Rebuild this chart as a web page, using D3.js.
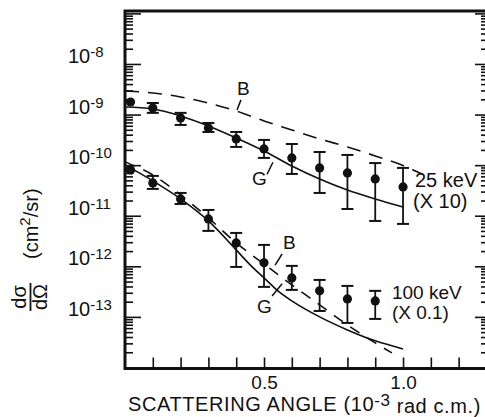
<!DOCTYPE html>
<html><head><meta charset="utf-8">
<script src="https://cdn.jsdelivr.net/npm/d3@7"></script>
<style>
html,body{margin:0;padding:0;background:#fff;}
svg{display:block;}
text{font-family:"Liberation Sans",Arial,Helvetica,sans-serif;fill:#111;}
</style></head>
<body>
<svg id="c" width="485" height="417"></svg>
<script>
// ---------- data ----------
const xExtent = [0, 1.302];                 // scattering angle, 10^-3 rad c.m.
const yExtent = [Math.pow(10,-14.02), Math.pow(10,-6.953)];
const xTickValues = [0.1,0.2,0.3,0.4,0.5,0.6,0.7,0.8,0.9,1.0,1.1,1.2];
const xTickLabels = [0.5, 1.0];
const yDecadeExps = [-8,-9,-10,-11,-12,-13];

// 25 keV (x10) measured points
const kev25X   = [0.02,0.1,0.2,0.3,0.4,0.5,0.6,0.7,0.8,0.9,1.0];
const kev25Val = [1.77e-9,1.35e-9,8.57e-10,5.43e-10,3.30e-10,2.09e-10,1.39e-10,8.81e-11,7.01e-11,5.33e-11,3.71e-11];
const kev25Hi  = [null,1.69e-9,1.08e-9,6.82e-10,4.53e-10,3.15e-10,2.62e-10,1.82e-10,1.59e-10,1.10e-10,8.81e-11];
const kev25Lo  = [null,1.08e-9,6.23e-10,4.53e-10,2.29e-10,1.39e-10,6.70e-11,2.82e-11,1.36e-11,7.88e-12,6.89e-12];

// 100 keV (x0.1) measured points
const kev100X   = [0.02,0.1,0.2,0.3,0.4,0.5,0.6,0.7,0.8,0.9];
const kev100Val = [8.03e-11,4.46e-11,2.15e-11,8.65e-12,2.90e-12,1.17e-12,5.90e-13,3.27e-13,2.27e-13,2.07e-13];
const kev100Hi  = [null,6.12e-11,2.82e-11,1.30e-11,4.57e-12,2.65e-12,1.02e-12,5.38e-13,4.10e-13,3.27e-13];
const kev100Lo  = [null,3.39e-11,1.71e-11,5.01e-12,9.72e-13,3.92e-13,3.42e-13,1.31e-13,7.60e-14,9.12e-14];

// theory curves
const b25X   = [0,0.1,0.2,0.3,0.4,0.5,0.6,0.7,0.8,0.9,1.0,1.07];
const b25Val = [2.92e-9,2.67e-9,2.23e-9,1.69e-9,1.18e-9,7.48e-10,4.96e-10,3.30e-10,2.29e-10,1.52e-10,9.8e-11,6.6e-11];
const g25X   = [0,0.1,0.2,0.3,0.4,0.5,0.6,0.7,0.8,0.9,1.0];
const g25Val = [1.41e-9,1.29e-9,9.38e-10,5.95e-10,3.45e-10,1.91e-10,9.64e-11,5.33e-11,3.23e-11,2.15e-11,1.49e-11];
const b100X   = [0,0.1,0.2,0.3,0.4,0.5,0.6,0.7,0.8,0.9,0.96];
const b100Val = [1.16e-10,6.40e-11,2.58e-11,9.05e-12,2.90e-12,1.11e-12,4.29e-13,1.73e-13,6.95e-14,3.06e-14,1.94e-14];
const g100X   = [0,0.1,0.2,0.3,0.4,0.45,0.5,0.55,0.6,0.7,0.8,0.9,1.0];
const g100Val = [1.01e-10,4.88e-11,2.15e-11,7.88e-12,2.11e-12,1.07e-12,5.90e-13,3.27e-13,2.07e-13,1.0e-13,5.53e-14,3.36e-14,2.33e-14];

// ---------- layout ----------
const svg = d3.select("#c");
const x = d3.scaleLinear().domain(xExtent).range([125, 487]);
const y = d3.scaleLog().domain(yExtent).range([368.5, 11]);
const FONT = 20;

// frame
svg.append("rect")
  .attr("x", x(xExtent[0])).attr("y", y(yExtent[1]))
  .attr("width", x(xExtent[1]) - x(xExtent[0]))
  .attr("height", y(yExtent[0]) - y(yExtent[1]))
  .attr("fill","none").attr("stroke","#111").attr("stroke-width",3);

// y ticks (log, decades + minors)
const decades = [], minors = [];
for (let e = -15; e <= -6; e++) {
  const d = Math.pow(10, e);
  if (d >= yExtent[0] && d <= yExtent[1]) decades.push(d);
  for (let m = 2; m <= 9; m++) {
    const v = m * d;
    if (v >= yExtent[0] && v <= yExtent[1]) minors.push(v);
  }
}
function yAxisGroup(axis, xpos) {
  const g = svg.append("g").attr("transform", `translate(${xpos},0)`).call(axis);
  g.select(".domain").remove();
  g.selectAll("text").remove();
  g.selectAll("line").attr("stroke","#111").attr("stroke-width",1.6);
}
yAxisGroup(d3.axisLeft(y).tickValues(decades).tickSize(-16), x(xExtent[0]));
yAxisGroup(d3.axisLeft(y).tickValues(minors).tickSize(-8), x(xExtent[0]));
yAxisGroup(d3.axisRight(y).tickValues(decades).tickSize(-12), x(xExtent[1]));
yAxisGroup(d3.axisRight(y).tickValues(minors).tickSize(-6), x(xExtent[1]));

// y tick labels 10^e
yDecadeExps.forEach(e => {
  const t = svg.append("text").attr("x", 68).attr("y", y(Math.pow(10, e)) - 1)
    .attr("font-size", FONT);
  t.append("tspan").text("10");
  t.append("tspan").attr("font-size", 15).attr("dy", -6).text("-" + Math.abs(e));
});

// x axis ticks
const gx = svg.append("g").attr("transform", `translate(0,${y(yExtent[0])})`)
  .call(d3.axisBottom(x).tickValues(xTickValues).tickSize(-11).tickPadding(7)
    .tickFormat(d => xTickLabels.some(v => Math.abs(v - d) < 1e-9) ? d3.format(".1f")(d) : ""));
gx.select(".domain").remove();
gx.selectAll("line").attr("stroke","#111").attr("stroke-width",1.6);
gx.selectAll("text").attr("font-size",19).attr("fill","#111")
  .attr("font-family",'"Liberation Sans",Arial,Helvetica,sans-serif');

// x title
const xt = svg.append("text").attr("x", 128).attr("y", 411).attr("font-size", FONT)
  .attr("letter-spacing", 0.6);
xt.append("tspan").text("SCATTERING ANGLE (10");
xt.append("tspan").attr("font-size", 17).attr("dy", -5).text("-3");
xt.append("tspan").attr("dy", 7).text(" rad c.m.)");

// y title (rotated)
const yt = svg.append("g").attr("transform", "rotate(-90)");
yt.append("text").attr("x", -297).attr("y", 26).attr("text-anchor","middle")
  .attr("font-size", FONT).text("dσ");
yt.append("line").attr("x1", -311).attr("x2", -283).attr("y1", 30.5).attr("y2", 30.5)
  .attr("stroke","#111").attr("stroke-width",1.8);
yt.append("text").attr("x", -297).attr("y", 47).attr("text-anchor","middle")
  .attr("font-size", FONT).text("dΩ");
const yu = yt.append("text").attr("x", -259).attr("y", 38).attr("font-size", FONT);
yu.append("tspan").text("(cm");
yu.append("tspan").attr("font-size", 15).attr("dy", -8).text("2");
yu.append("tspan").attr("dy", 8).text("/sr)");

// curves
const line = d3.line().x(d => x(d[0])).y(d => y(d[1])).curve(d3.curveMonotoneX);
function curve(xs, vs, dash) {
  svg.append("path").datum(xs.map((v, i) => [v, vs[i]]))
    .attr("d", line).attr("fill","none").attr("stroke","#111")
    .attr("stroke-width", 1.6).attr("stroke-dasharray", dash || null);
}
curve(b25X, b25Val, "14,9");
curve(g25X, g25Val);
curve(b100X, b100Val, "11,9");
curve(g100X, g100Val);

// points with error bars
function points(xs, vals, his, los) {
  const data = xs.map((v, i) => ({x: v, v: vals[i], hi: his[i], lo: los[i]}));
  const g = svg.append("g");
  const eb = data.filter(d => d.hi != null);
  g.selectAll(".ev").data(eb).join("line")
    .attr("x1", d => x(d.x)).attr("x2", d => x(d.x))
    .attr("y1", d => y(d.hi)).attr("y2", d => y(d.lo))
    .attr("stroke","#111").attr("stroke-width",1.8);
  ["hi","lo"].forEach(k => {
    g.selectAll(".c" + k).data(eb).join("line")
      .attr("x1", d => x(d.x) - 6).attr("x2", d => x(d.x) + 6)
      .attr("y1", d => y(d[k])).attr("y2", d => y(d[k]))
      .attr("stroke","#111").attr("stroke-width",2);
  });
  g.selectAll("circle").data(data).join("circle")
    .attr("cx", d => x(d.x)).attr("cy", d => y(d.v)).attr("r", 4.6).attr("fill","#111");
}
points(kev25X, kev25Val, kev25Hi, kev25Lo);
points(kev100X, kev100Val, kev100Hi, kev100Lo);

// annotations (anchored in data space)
function label(t, xv, yv, size) {
  svg.append("text").attr("x", x(xv)).attr("y", y(yv)).attr("font-size", size || FONT).text(t);
}
function pointer(x1, v1, x2, v2) {
  svg.append("line").attr("x1", x(x1)).attr("y1", y(v1)).attr("x2", x(x2)).attr("y2", y(v2))
    .attr("stroke","#111").attr("stroke-width",1.5);
}
label("B", 0.403, 2.44e-9, 19);
pointer(0.417, 1.95e-9, 0.403, 1.23e-9);
label("G", 0.457, 4.05e-11, 19);
pointer(0.511, 6.6e-11, 0.532, 1.14e-10);
label("B", 0.568, 2.20e-12, 19);
pointer(0.565, 1.75e-12, 0.540, 1.06e-12);
label("G", 0.475, 1.19e-13, 19);
pointer(0.529, 2.59e-13, 0.565, 4.53e-13);
label("25 keV", 1.043, 3.71e-11);
label("(X 10)", 1.036, 1.42e-11);
label("100 keV", 0.960, 2.25e-13, 19);
label("(X 0.1)", 0.960, 9.0e-14, 19);
</script>
</body></html>
